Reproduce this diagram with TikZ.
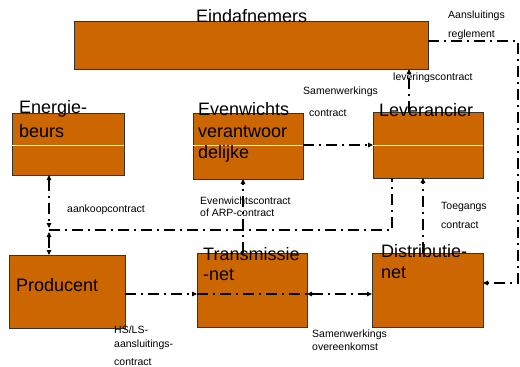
\documentclass[tikz,border=0pt]{standalone}
\usepackage{fontspec}
\setmainfont{Liberation Sans}
\usetikzlibrary{arrows.meta,calc}
\definecolor{boxfill}{RGB}{204,102,0}
\tikzset{
  box/.style={draw=black!80, line width=0.8pt, fill=boxfill, anchor=north west, inner sep=0pt, outer sep=0pt},
  big/.style={anchor=base west, inner sep=0pt, font=\fontsize{18}{21}\selectfont},
  small/.style={anchor=base west, inner sep=0pt, font=\fontsize{10.5}{12.6}\selectfont},
  dd/.style={line width=1.4pt, dash pattern=on 11pt off 5pt on 2pt off 5pt},
  tip/.style={-{Triangle[length=5pt,width=4.5pt]}},
  tips/.style={{Triangle[length=5pt,width=4.5pt]}-{Triangle[length=5pt,width=4.5pt]}},
  sep/.style={white, line width=0.8pt}
}
\begin{document}
\begin{tikzpicture}[x=1pt,y=-1pt]
\useasboundingbox (0,0) rectangle (520,367);
% boxes
\node[box, minimum width=354pt, minimum height=48pt] (ein) at (74,21) {};
\node[box, minimum width=112pt, minimum height=62pt] (beurs) at (12,113) {};
\node[box, minimum width=110pt, minimum height=66pt] (even) at (193,113) {};
\node[box, minimum width=110pt, minimum height=66pt] (lev) at (373,112) {};
\node[box, minimum width=116pt, minimum height=73pt] (prod) at (9,255) {};
\node[box, minimum width=110pt, minimum height=74pt] (trans) at (197,253) {};
\node[box, minimum width=111pt, minimum height=74pt] (dist) at (372,253) {};
% white separators
\draw[sep] (beurs.west |- 0,145) -- (beurs.east |- 0,145);
\draw[sep] (even.west |- 0,145) -- (even.east |- 0,145);
\draw[sep] (lev.west |- 0,145) -- (lev.east |- 0,145);
% coordinates
\coordinate (c1) at (518,41);
\coordinate (c2) at (518,283);
\coordinate (h1) at (49,230);
\coordinate (h2) at (392,230);
\coordinate (e1) at (49,228);
\coordinate (e2) at (49,232);
\coordinate (r) at (0,294);
% connectors
\draw[dd, tip] (ein.east |- c1) -- (c1) -- (c2) -- (c2 -| dist.east);
\draw[dd, tip] ([xshift=-19pt]lev.north) -- ([xshift=-19pt]lev.north |- ein.south);
\draw[dd, tip] (even.east |- 0,145) -- (lev.west |- 0,145);
\draw[dd, tips] ([xshift=-19pt]beurs.south) -- (e1);
\draw[dd, tips] (e2) -- (e2 |- prod.north);
\draw[dd] (h1) -- (h2) -- (h2 |- lev.south);
\draw[dd, tip] ([xshift=-9pt]trans.north) -- ([xshift=-9pt]trans.north |- even.south);
\draw[dd, tip] ([xshift=-4.5pt]dist.north) -- ([xshift=-4.5pt]dist.north |- lev.south);
\draw[dd, tip] (prod.east |- r) -- (trans.west |- r);
\draw[dd] (trans.west |- r) -- (trans.east |- r);
\draw[dd, tips] (trans.east |- r) -- (dist.west |- r);
% box labels
\node[big] (tein) at (196,22) {Eindafnemers};
\node[big] (tbeurs1) at (19,113) {Energie-};
\node[big] (tbeurs2) at (19,137) {beurs};
\node[big] (teven1) at (198,115) {Evenwichts};
\node[big] (teven2) at (198,137) {verantwoor};
\node[big] (teven3) at (198,158) {delijke};
\node[big] (tlev) at (379,116) {Leverancier};
\node[big] (tprod) at (16,291) {Producent};
\node[big] (ttrans1) at (203,260) {Transmissie};
\node[big] (ttrans2) at (203,280) {-net};
\node[big] (tdist1) at (381,257) {Distributie-};
\node[big] (tdist2) at (381,278) {net};
% connector labels
\node[small] (l1) at (448,18) {Aansluitings};
\node[small] (l2) at (448,37) {reglement};
\node[small] (l3) at (393,80) {leveringscontract};
\node[small] (l4) at (303,94) {Samenwerkings};
\node[small] (l5) at (309,116) {contract};
\node[small] (l6) at (67,212) {aankoopcontract};
\node[small] (l7) at (200,204) {Evenwichtscontract};
\node[small] (l8) at (200,216) {of ARP-contract};
\node[small] (l9) at (441,209) {Toegangs};
\node[small] (l10) at (441,228) {contract};
\node[small] (l11) at (114,333) {HS/LS-};
\node[small] (l12) at (114,347) {aansluitings-};
\node[small] (l13) at (114,365) {contract};
\node[small] (l14) at (312,337) {Samenwerkings};
\node[small] (l15) at (312,350) {overeenkomst};
\end{tikzpicture}
\end{document}
